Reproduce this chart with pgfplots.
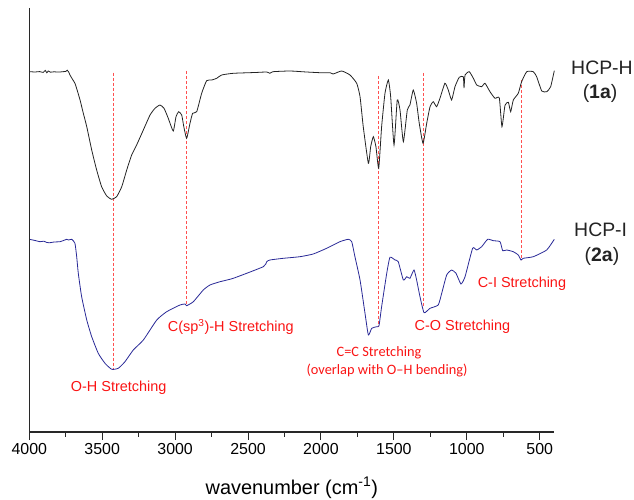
\documentclass[border=0pt]{standalone}
\usepackage{fontspec}
\setmainfont{Liberation Sans}
\newfontfamily\carlito{Carlito}
\usepackage{pgfplots}
\pgfplotsset{compat=1.18}
\definecolor{trblack}{RGB}{35,35,35}
\definecolor{trblue}{RGB}{40,40,150}
\definecolor{dashred}{RGB}{255,80,80}
\definecolor{lblred}{RGB}{250,20,20}
\definecolor{axgray}{RGB}{40,40,40}
\begin{document}
\begin{tikzpicture}
\begin{axis}[name=ax, scale only axis, width=525bp, height=424bp,
  x dir=reverse, xmin=400, xmax=4000, ymin=0, ymax=424,
  axis line style={draw=none},
  xtick={500,1000,...,4000}, minor xtick={750,1250,...,3750},
  ytick=\empty, xtick pos=left, tick align=outside,
  major tick length=8bp, minor tick length=4.5bp,
  every tick/.style={axgray, line width=1bp},
  tick label style={font=\fontsize{16}{18}\selectfont},
  /pgf/number format/assume math mode=true,
  /pgf/number format/1000 sep={},
  xlabel={wavenumber (cm\textsuperscript{-1})},
  xlabel style={at={(axis description cs:0.5,0)}, anchor=center, yshift=-56bp, font=\fontsize{20}{24}\selectfont},
  clip=false]
% dashed guide lines
\addplot[dashred, line width=0.9bp, dash pattern=on 3bp off 2bp] coordinates {(3421,359.3) (3421,62)};
\addplot[dashred, line width=0.9bp, dash pattern=on 3bp off 2bp] coordinates {(2925,361) (2925,127)};
\addplot[dashred, line width=0.9bp, dash pattern=on 3bp off 2bp] coordinates {(1604,356) (1604,105)};
\addplot[dashred, line width=0.9bp, dash pattern=on 3bp off 2bp] coordinates {(1300,359) (1300,124)};
\addplot[dashred, line width=0.9bp, dash pattern=on 3bp off 2bp] coordinates {(626,352) (626,172)};
% HCP-H
\addplot[trblack, line width=0.8bp, smooth, tension=0.3] table {
3995 360.3
3960 360.0
3930 360.4
3905 359.6
3890 361.6
3880 359.2
3870 361.0
3855 359.8
3830 360.2
3800 359.9
3770 360.3
3750 360.6
3740 361.8
3730 360.0
3721 357
3705 353
3687 348.7
3670 341
3652 332
3630 319
3606 305.3
3572 282
3538 262
3504 245.3
3469 236
3435 232.7
3401 235.3
3366 245.3
3332 262
3298 277
3264 287
3218 302
3172 317
3138 323.7
3104 327
3076 323.7
3047 313.7
3013 301
2994 315.3
2976 320.3
2955 317
2940 305
2921 293.7
2898 308.7
2880 318.7
2852 320.3
2818 338.7
2784 351.3
2749 352
2715 353.7
2681 357
2601 358.7
2450 359.5
2372 360
2350 358.7
2329 360.3
2212 361
2100 360
2007 359.3
1938 359.3
1916 358
1858 361
1801 357
1755 348.7
1732 335.3
1710 305.3
1675 268.7
1659 285.3
1641 295.3
1623 285.3
1604 263.7
1584 305.3
1561 338.7
1538 352
1522 335.3
1499 287
1477 332
1458 322
1435 290.3
1408 322
1390 327
1367 342
1344 328.7
1326 308.7
1300 288.7
1275 308.7
1252 325.3
1230 330.3
1207 325.3
1184 333.7
1150 348.7
1127 342
1104 332
1081 345.3
1052 354.7
1024 355.3
1019 344
1012 357
983 360.3
955 353.7
932 347
898 345.3
875 348.7
841 340.3
807 333.7
777 334
759 305.3
738 326.7
715 329.7
699 320.3
681 332
647 338.7
624 350.3
589 360.3
544 360.3
521 355.3
486 341
452 340.3
425 345.3
400 361.3
};
% HCP-I
\addplot[trblue, line width=0.8bp, smooth, tension=0.3] table {
4000 192.7
3960 191.5
3927 190.3
3900 190.8
3880 189.5
3858 189.3
3830 190.0
3789 190.3
3760 191.8
3744 192.7
3730 192.0
3709 192.7
3687 188.7
3675 175.3
3664 158.7
3641 135.3
3606 112
3572 95.3
3527 78.7
3481 68.7
3435 62.7
3390 63.7
3344 70.3
3287 82
3218 92
3126 112
3058 120.3
2967 127
2932 128
2921 126.3
2875 130.3
2807 142
2761 147
2692 150.3
2601 153.7
2395 165.3
2372 170.3
2350 172
2258 173.7
2144 175.3
2053 178
1961 183.7
1870 190.3
1813 192.7
1789 190.3
1767 175.3
1732 152
1698 118.7
1675 97
1652 103.7
1618 105.3
1602 106.3
1584 125.3
1549 158.7
1527 174.7
1492 172
1470 170.3
1435 152
1412 155.3
1390 153.7
1362 162
1344 152
1321 135.3
1293 119.3
1252 123.7
1196 127
1172 138.7
1138 157
1104 162
1074 158.7
1040 148
1012 155.3
960 183.7
932 182
898 185.3
857 192.7
818 191.3
772 190.3
754 181.3
726 182
681 180.3
647 177
628 172
613 173.7
544 175.3
452 182
400 192.7
};
% axis lines
\draw[axgray, line width=1.4bp] (axis description cs:0,1) -- (axis description cs:0,0) -- (axis description cs:1,0);
% annotations
\node[lblred, font=\fontsize{14.5}{17}\selectfont] at (axis cs:3387,44.7) {O-H Stretching};
\node[lblred, font=\fontsize{14.5}{17}\selectfont] at (axis cs:2618,105.3) {C(sp\textsuperscript{3})-H Stretching};
\node[lblred, font=\carlito\fontsize{14.4}{17}\selectfont] at (axis cs:1602,79.3) {C=C Stretching};
\node[lblred, font=\carlito\fontsize{14.4}{17}\selectfont] at (axis cs:1547,62) {(overlap with O–H bending)};
\node[lblred, font=\fontsize{14.5}{17}\selectfont] at (axis cs:1030,105.3) {C-O Stretching};
\node[lblred, font=\fontsize{14.5}{17}\selectfont] at (axis cs:622,148.7) {C-I Stretching};
\node[trblack, font=\fontsize{19.5}{23}\selectfont] at (axis cs:73,363.7) {HCP-H};
\node[trblack, font=\fontsize{19.5}{23}\selectfont] at (axis cs:86,338.7) {(\textbf{1a})};
\node[trblack, font=\fontsize{19.5}{23}\selectfont] at (axis cs:82,202) {HCP-I};
\node[trblack, font=\fontsize{19.5}{23}\selectfont] at (axis cs:73,175.3) {(\textbf{2a})};
\end{axis}
\pgfresetboundingbox
\path[use as bounding box] (ax.south west) ++(-29.3bp,-68bp) rectangle ++(634bp,500bp);
\end{tikzpicture}
\end{document}
